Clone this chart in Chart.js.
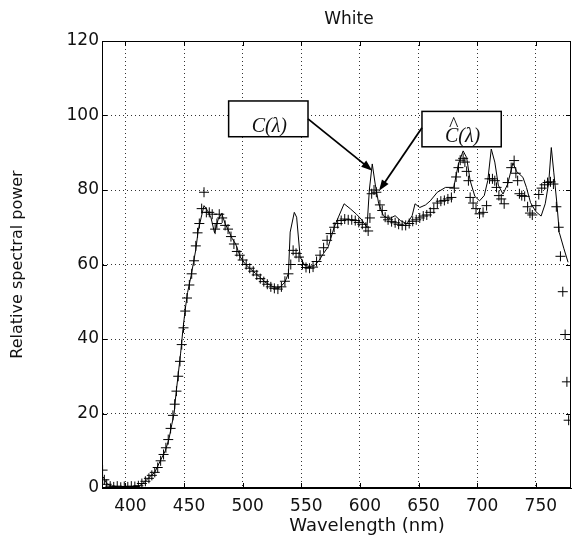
<!DOCTYPE html>
<html>
<head>
<meta charset="utf-8">
<script src="https://cdn.jsdelivr.net/npm/chart.js@4.4.1/dist/chart.umd.min.js"></script>
<style>
  html, body { margin: 0; padding: 0; background: #fff; }
  #wrap { width: 577px; height: 541px; }
</style>
</head>
<body>
<div id="wrap"><canvas id="chart" width="577" height="541"></canvas></div>
<script>
// ---------- DATOS ----------
// C(lambda): curva continua
const lineWl = [381, 384, 388, 395, 405, 412, 416, 420, 425, 430, 434, 437, 439.5, 441.5, 443, 445, 447, 449, 451, 453,
  456, 458, 460, 462, 464.5, 467, 470, 473, 476, 479, 482, 485, 488, 491, 494, 498, 502, 506, 511, 515,
  519, 523, 527, 532, 536, 539, 540.5, 544, 546, 549, 553, 557, 561, 565, 569, 573, 578, 582, 586.5, 592,
  597, 601, 606, 608, 610.5, 613, 616, 620, 624.5, 630, 634.5, 640, 644.5, 647, 651, 656, 660, 666, 673, 680,
  684, 688, 691, 694, 698, 702, 706, 709, 712, 715, 718, 722, 726, 730.5, 733.5, 739, 742, 745.5, 750, 754.5,
  758, 761, 763.2, 765.3, 768, 770, 774, 777.5];
const lineVal = [3, 1.2, 0.5, 0.3, 0.3, 0.6, 1.5, 2.8, 4.2, 7.5, 10, 13, 17, 20, 25, 30.5, 36, 42.5, 48, 52.5,
  57, 60.5, 64, 69, 72.5, 75.8, 74.5, 72.5, 68.5, 72, 73.7, 71, 69, 67, 65.5, 62, 60.2, 59, 57.6, 56.5,
  55.3, 54.5, 53.9, 53.9, 55.3, 57.6, 68.7, 74, 72.7, 62, 59.7, 59.5, 59.7, 61, 63, 64.8, 70, 73, 76.3, 74.9,
  73.5, 72.2, 70, 80, 87, 81.6, 76.3, 73.1, 72.2, 73.1, 71.8, 70.9, 73.1, 76.3, 75.3, 76, 77.1, 79.4, 80.7, 80.7,
  87, 90.5, 88.7, 82.5, 78.3, 77.1, 78.5, 82.5, 91, 87.5, 81.3, 78.9, 81.6, 87.3, 85, 83.4, 80.7, 76.6, 74.2, 73,
  76.3, 82, 91.4, 84.8, 76.3, 68.6, 64.2, 60.6];

// C^(lambda): marcadores "+"
const markWl = [380.5, 382, 384, 387, 390, 393, 396, 399, 402, 405, 408, 411, 414, 417, 420, 422.5, 425, 427.5, 430, 432.5,
  434.5, 436.5, 438.5, 440.5, 442, 443.5, 445, 446.5, 448, 449.5, 451, 452.5, 454.5, 456.5, 458.5, 460, 461.5, 463, 465, 467,
  469, 471.5, 474, 476.5, 478, 480, 482.5, 485, 487.5, 490, 492.5, 495, 497.5, 500, 503, 506, 509, 512, 515, 518,
  521, 524, 527, 530, 533, 536, 539, 541, 543, 545.5, 548, 551, 554, 557, 560, 563, 566, 569, 572, 575,
  578, 581, 584, 587, 590, 593, 596, 599, 602, 605, 607, 608.5, 610, 612, 614, 617, 619, 621.5, 624, 627,
  630, 633, 636, 639, 642, 645, 648, 651, 654, 657, 660, 663, 666, 669, 672, 675, 678, 680.5, 682, 684,
  685.5, 688, 689.5, 691, 692.5, 694, 696.5, 699, 702, 705, 708, 710.5, 713, 715, 716.5, 718.5, 720.5, 723, 726, 729,
  731.5, 733, 734.5, 736, 738, 740.5, 743, 745, 747, 750, 752.5, 755, 757.5, 760, 762.5, 765, 767.5, 769.5, 771, 773,
  775, 776.5, 778];
const markVal = [4.8, 2.2, 1, 0.5, 0.3, 0.5, 0.2, 0.4, 0.3, 0.5, 0.4, 0.6, 1.2, 1.8, 2.6, 3.4, 4.2, 5.5, 7.3, 9,
  10.8, 13, 16, 19.5, 22.5, 26, 30, 34, 38.5, 43, 47.5, 51, 54.5, 57.5, 61, 65, 68.5, 71, 75, 79.4,
  74, 74, 73.5, 69.5, 71, 73.5, 72.5, 70.5, 69.5, 67.5, 65.5, 63.5, 62.5, 61.2, 60, 59, 58.2, 57.2, 56.2, 55.4,
  54.7, 54, 53.6, 53.4, 54, 55.5, 57.5, 60, 63.8, 63, 62, 60, 59.2, 59, 59.3, 60.8, 62.5, 64.5, 66.5, 68.3,
  70, 71, 71.8, 72.2, 72, 72, 71.8, 71.3, 70.8, 70, 69, 72.5, 79, 80, 79.4, 76, 74.5, 72.7, 72, 71.5,
  71.2, 70.8, 70.5, 70.5, 71, 71.6, 72, 72.5, 73, 73.3, 74, 75, 76.5, 77, 77.2, 77.6, 78, 80.5, 83.5, 86,
  88, 88.5, 87.5, 85, 82.5, 78, 76.5, 75, 73.6, 74, 75.8, 83, 83, 82.5, 80.7, 78.5, 77.6, 76.3, 82, 86,
  87.9, 84.5, 82.5, 79, 78.5, 78.3, 75.5, 73.8, 73.3, 75.8, 78.8, 80.5, 81.4, 82, 82.2, 81.6, 75.5, 70, 62.2, 52.7,
  41.2, 28.5, 18.2];

const xTicks = [400, 450, 500, 550, 600, 650, 700, 750];
const yTicks = [0, 20, 40, 60, 80, 100, 120];

// ---------- ANOTACIONES (en unidades de datos) ----------
const notas = [
  { hat: false, box: [488, 555.7, 103.9, 94.3], from: [555.7, 99.1], to: [610.5, 85.2] },
  { hat: true,  box: [652.9, 720.5, 101.1, 91.6], from: [652.9, 96.7], to: [616.3, 79.8] }
];

function flecha(ctx, x1, y1, x2, y2) {
  const ang = Math.atan2(y2 - y1, x2 - x1);
  const len = 11, half = 4;
  ctx.beginPath();
  ctx.moveTo(x1, y1);
  ctx.lineTo(x2 - Math.cos(ang) * len * 0.8, y2 - Math.sin(ang) * len * 0.8);
  ctx.stroke();
  ctx.beginPath();
  ctx.moveTo(x2, y2);
  ctx.lineTo(x2 - Math.cos(ang) * len - Math.sin(ang) * half, y2 - Math.sin(ang) * len + Math.cos(ang) * half);
  ctx.lineTo(x2 - Math.cos(ang) * len + Math.sin(ang) * half, y2 - Math.sin(ang) * len - Math.cos(ang) * half);
  ctx.closePath();
  ctx.fill();
}

const extras = {
  id: 'extras',
  afterDraw(chart) {
    const { ctx, chartArea: a, scales: { x, y } } = chart;
    ctx.save();
    // marco de los ejes
    ctx.strokeStyle = '#000';
    ctx.lineWidth = 1;
    ctx.setLineDash([]);
    ctx.strokeRect(a.left + 0.5, a.top + 0.5, a.right - a.left - 1, a.bottom - a.top - 1);

    // marcas de graduacion hacia dentro
    ctx.beginPath();
    xTicks.forEach(v => {
      const px = Math.round(x.getPixelForValue(v)) + 0.5;
      ctx.moveTo(px, a.bottom); ctx.lineTo(px, a.bottom - 5);
      ctx.moveTo(px, a.top); ctx.lineTo(px, a.top + 5);
    });
    yTicks.forEach(v => {
      const py = Math.round(y.getPixelForValue(v)) + 0.5;
      ctx.moveTo(a.left, py); ctx.lineTo(a.left + 5, py);
      ctx.moveTo(a.right, py); ctx.lineTo(a.right - 5, py);
    });
    ctx.stroke();

    // titulo y etiqueta x
    ctx.fillStyle = '#111';
    ctx.textAlign = 'center';
    ctx.textBaseline = 'middle';
    ctx.font = '17px "DejaVu Sans"';
    ctx.fillText('White', 349, 20);
    ctx.font = '18px "DejaVu Sans"';
    ctx.fillText('Wavelength (nm)', 367, 526);

    // cajas y flechas
    notas.forEach(n => {
      const l = x.getPixelForValue(n.box[0]), r = x.getPixelForValue(n.box[1]);
      const t = y.getPixelForValue(n.box[2]), b = y.getPixelForValue(n.box[3]);
      ctx.fillStyle = '#fff';
      ctx.fillRect(l, t, r - l, b - t);
      ctx.lineWidth = 1.5;
      ctx.strokeStyle = '#000';
      ctx.strokeRect(l, t, r - l, b - t);
      ctx.fillStyle = '#111';
      ctx.font = 'italic 20px "Liberation Serif"';
      ctx.textAlign = 'center';
      ctx.textBaseline = 'alphabetic';
      const cx = (l + r) / 2 + 1;
      ctx.fillText('C(λ)', cx, b - 5);
      if (n.hat) {
        const w = ctx.measureText('C(λ)').width;
        const cw = ctx.measureText('C').width;
        ctx.font = '20px "Liberation Serif"';
        ctx.fillText('^', cx - w / 2 + cw / 2 + 2, b - 16);
      }
      ctx.fillStyle = '#000';
      ctx.lineWidth = 1.8;
      flecha(ctx, x.getPixelForValue(n.from[0]), y.getPixelForValue(n.from[1]),
        x.getPixelForValue(n.to[0]), y.getPixelForValue(n.to[1]));
    });
    ctx.restore();
  }
};

// ---------- GRAFICA ----------
const ctx = document.getElementById('chart');
const chart = new Chart(ctx, {
  type: 'scatter',
  data: {
    datasets: [{
      label: 'C(λ)',
      data: lineWl.map((w, i) => ({ x: w, y: lineVal[i] })),
      showLine: true,
      borderColor: '#000',
      borderWidth: 1,
      pointRadius: 0,
      tension: 0
    }, {
      label: 'Ĉ(λ)',
      data: markWl.map((w, i) => ({ x: w, y: markVal[i] })),
      showLine: false,
      pointStyle: 'cross',
      pointRadius: 5,
      borderColor: '#000',
      borderWidth: 1
    }]
  },
  options: {
    responsive: false,
    animation: false,
    layout: { padding: { top: 41, right: 3, left: 0, bottom: 0 } },
    plugins: {
      legend: { display: false },
      title: { display: false },
      tooltip: { enabled: false }
    },
    scales: {
      x: {
        type: 'linear',
        min: 380,
        max: 780,
        afterBuildTicks: s => { s.ticks = xTicks.map(v => ({ value: v })); },
        afterFit: s => { s.height = 53; },
        grid: { color: 'rgba(0,0,0,0.8)', drawTicks: false },
        border: { display: true, color: '#000', width: 1, dash: [1, 3] },
        ticks: { color: '#111', font: { family: 'DejaVu Sans', size: 17 }, padding: 8, labelOffset: 5, maxRotation: 0 }
      },
      y: {
        min: 0,
        max: 120,
        afterBuildTicks: s => { s.ticks = yTicks.map(v => ({ value: v })); },
        afterFit: s => { s.width = 102; },
        grid: { color: 'rgba(0,0,0,0.8)', drawTicks: false },
        border: { display: true, color: '#000', width: 1, dash: [1, 3] },
        ticks: { color: '#111', font: { family: 'DejaVu Sans', size: 17 }, padding: 3 },
        title: {
          display: true,
          text: 'Relative spectral power',
          color: '#111',
          font: { family: 'DejaVu Sans', size: 16 },
          padding: { top: 8, bottom: 0 }
        }
      }
    }
  },
  plugins: [extras]
});
</script>
</body>
</html>
